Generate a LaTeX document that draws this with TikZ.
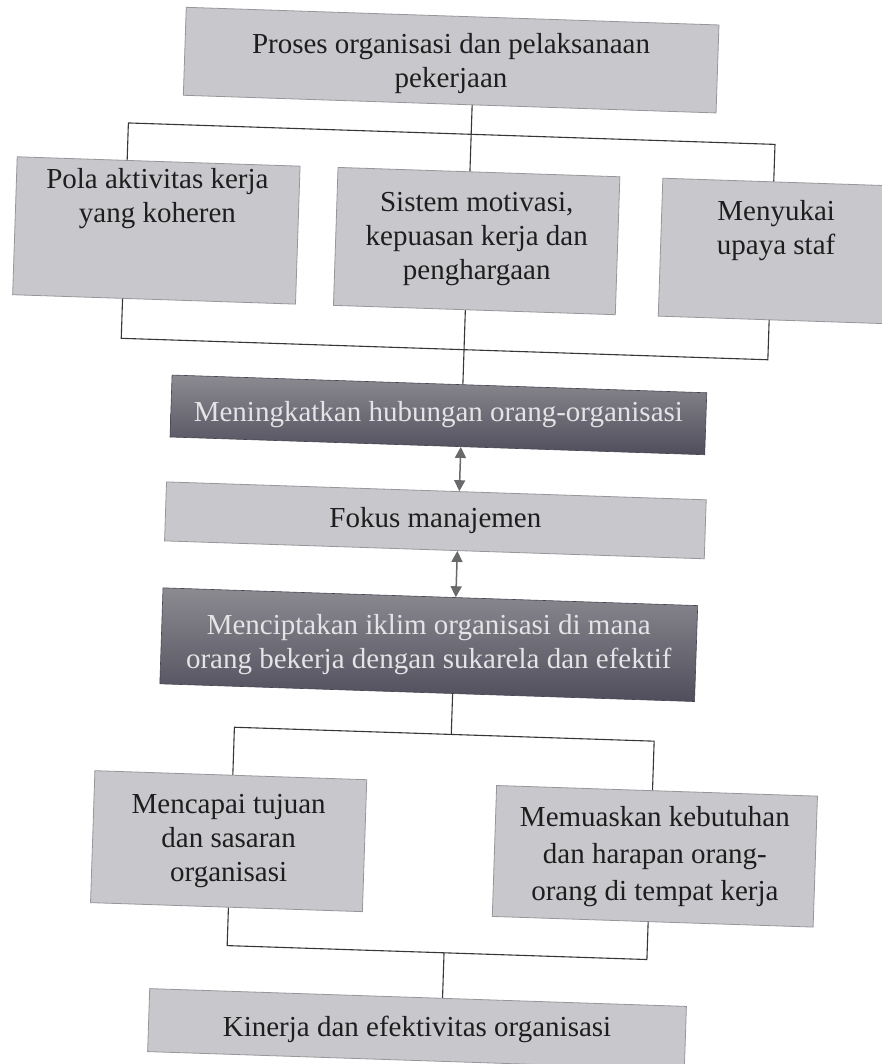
\documentclass[tikz,border=0pt]{standalone}
\usepackage{fontspec}
\setmainfont{Liberation Serif}
\usetikzlibrary{arrows.meta}

\definecolor{boxfill}{RGB}{200,200,204}
\definecolor{boxedge}{RGB}{150,150,155}
\definecolor{darktop}{RGB}{140,139,145}
\definecolor{darkbot}{RGB}{80,78,92}
\definecolor{darkedge}{RGB}{70,68,80}
\definecolor{inktext}{RGB}{30,30,30}
\definecolor{paletext}{RGB}{228,228,230}
\definecolor{wirecol}{RGB}{55,55,55}
\definecolor{arrowgrey}{RGB}{105,105,108}

\begin{document}
\begin{tikzpicture}[x=1pt,y=-1pt,
  lbox/.style={rectangle, fill=boxfill, draw=boxedge, line width=0.8pt, inner sep=0pt},
  dbox/.style={rectangle, top color=darktop, bottom color=darkbot, draw=darkedge,
    line width=0.6pt, inner sep=0pt},
  % text stays level while the sheet of boxes is slightly tilted
  boxtext/.style={rotate=1.9, inner sep=0pt, font=\fontsize{29}{34}\selectfont,
    align=center, text=inktext},
  palebox text/.style={boxtext, text=paletext},
  wire/.style={draw=wirecol, line width=1.1pt},
  biarrow/.style={draw=arrowgrey, line width=1.5pt,
    {Triangle[length=11pt,width=11pt]}-{Triangle[length=11pt,width=11pt]}}
]
\fill[white] (0,0) rectangle (881,1064);
\useasboundingbox (0,0) rectangle (881,1064);

\begin{scope}[rotate around={-1.9:(440,532)}, transform shape]

% boxes
\node[lbox, minimum width=533pt, minimum height=88pt] (top) at (435.5,60) {};
\node[boxtext] (toptext) at (435.5,63)
  {Proses organisasi dan pelaksanaan\\pekerjaan};

\node[lbox, minimum width=283pt, minimum height=138pt] (pola) at (146.5,240) {};
\node[boxtext] (polatext) at (146.5,208) {Pola aktivitas kerja\\yang koheren};

\node[lbox, minimum width=282pt, minimum height=138pt] (sistem) at (467,240) {};
\node[boxtext] (sistemtext) at (467,238)
  {Sistem motivasi,\\kepuasan kerja dan\\penghargaan};

\node[lbox, minimum width=230pt, minimum height=138pt] (suka) at (766,240) {};
\node[boxtext] (sukatext) at (766,220) {Menyukai\\upaya staf};

\node[dbox, minimum width=535pt, minimum height=62pt] (tingkat) at (434.5,415) {};
\node[palebox text] (tingkattext) at (434.5,415)
  {Meningkatkan hubungan orang-organisasi};

\node[lbox, minimum width=540pt, minimum height=59pt] (fokus) at (435,520.5) {};
\node[boxtext] (fokustext) at (435,520.5) {Fokus manajemen};

\node[dbox, minimum width=535pt, minimum height=96pt] (iklim) at (432.5,645) {};
\node[palebox text] (iklimtext) at (432.5,645)
  {Menciptakan iklim organisasi di mana\\orang bekerja dengan sukarela dan efektif};

\node[lbox, minimum width=272pt, minimum height=132pt] (capai) at (239,848) {};
\node[boxtext] (capaitext) at (239,848) {Mencapai tujuan\\dan sasaran\\organisasi};

\node[lbox, minimum width=321pt, minimum height=131pt] (puas) at (665.5,849) {};
\node[boxtext, font=\fontsize{29}{37}\selectfont] (puastext) at (665.5,849)
  {Memuaskan kebutuhan\\dan harapan orang-\\orang di tempat kerja};

\node[lbox, minimum width=537pt, minimum height=63pt] (kinerja) at (433.5,1029.5) {};
\node[boxtext] (kinerjatext) at (433.5,1029.5) {Kinerja dan efektivitas organisasi};

% bus junctions
\coordinate (axis) at (458,0);
\coordinate (busAl) at (115,133.5);
\coordinate (busAr) at (762,133.5);
\coordinate (busBl) at (115,349);
\coordinate (busBr) at (762,349);
\coordinate (busCl) at (241,734);
\coordinate (busCr) at (661,734);
\coordinate (busDl) at (241,952.5);
\coordinate (busDr) at (661,952.5);

% connectors
\draw[wire] (axis |- top.south) -- (axis |- sistem.north);
\draw[wire] (busAl |- pola.north) -- (busAl) -- (busAr) -- (busAr |- suka.north);

\draw[wire] (axis |- sistem.south) -- (axis |- tingkat.north);
\draw[wire] (busBl |- pola.south) -- (busBl) -- (busBr) -- (busBr |- suka.south);

\draw[biarrow] (axis |- tingkat.south) -- (axis |- fokus.north);
\draw[biarrow] (axis |- fokus.south) -- (axis |- iklim.north);

\draw[wire] (axis |- iklim.south) -- (axis |- busCl);
\draw[wire] (busCl |- capai.north) -- (busCl) -- (busCr) -- (busCr |- puas.north);

\draw[wire] (busDl |- capai.south) -- (busDl) -- (busDr) -- (busDr |- puas.south);
\draw[wire] (axis |- busDl) -- (axis |- kinerja.north);

\end{scope}
\end{tikzpicture}
\end{document}
